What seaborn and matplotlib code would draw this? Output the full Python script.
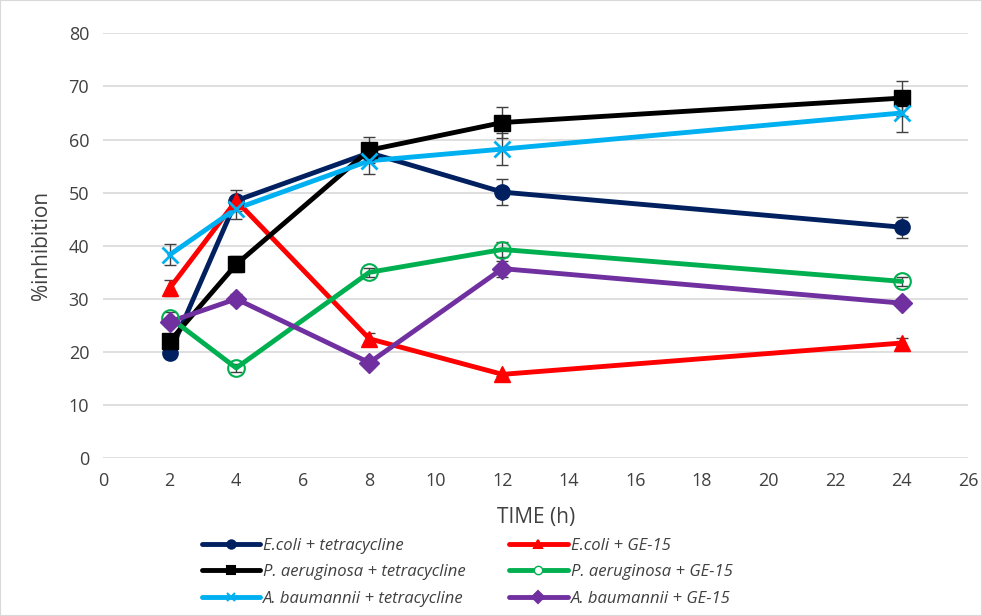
import seaborn as sns
import pandas as pd
import matplotlib.pyplot as plt

times = [2, 4, 8, 12, 24]
series = ["E.coli + tetracycline", "E.coli + GE-15",
          "P. aeruginosa + tetracycline", "P. aeruginosa + GE-15",
          "A. baumannii + tetracycline", "A. baumannii + GE-15"]
ecoli_tet = [19.8, 48.5, 57.5, 50.1, 43.5]
ecoli_ge = [32.0, 48.5, 22.5, 15.8, 21.7]
paer_tet = [22.0, 36.5, 58.0, 63.2, 67.8]
paer_ge = [26.5, 17.0, 35.0, 39.3, 33.3]
abau_tet = [38.3, 47.0, 56.0, 58.2, 65.0]
abau_ge = [25.7, 30.0, 18.0, 35.7, 29.2]
ecoli_tet_err = [0.5, 2.0, 1.5, 2.5, 2.0]
ecoli_ge_err = [1.5, 0.5, 1.0, 0.3, 1.0]
paer_tet_err = [1.0, 1.5, 2.5, 3.0, 3.3]
paer_ge_err = [1.0, 0.8, 0.8, 1.5, 0.8]
abau_tet_err = [2.0, 2.0, 2.5, 3.0, 3.5]
abau_ge_err = [0.8, 1.0, 0.8, 1.5, 0.8]

values = [ecoli_tet, ecoli_ge, paer_tet, paer_ge, abau_tet, abau_ge]
errors = [ecoli_tet_err, ecoli_ge_err, paer_tet_err, paer_ge_err, abau_tet_err, abau_ge_err]
colors = ["#002060", "#FF0000", "#000000", "#00B050", "#00B0F0", "#7030A0"]
markers = ["o", "^", "s", "o", "x", "D"]

rows = []
for name, vals in zip(series, values):
    for t, v in zip(times, vals):
        rows.append({"time": t, "inh": v, "series": name})
df = pd.DataFrame(rows)

sns.set_style("white")
plt.rcParams["font.family"] = ["Open Sans", "DejaVu Sans"]

fig = plt.figure(figsize=(9.82, 6.16), dpi=100)
ax = fig.add_axes([0.105, 0.256, 0.881, 0.69])

# error bars first, behind the lines
for vals, errs in zip(values, errors):
    ax.errorbar(times, vals, yerr=errs, fmt="none", ecolor="#404040",
                elinewidth=1, capsize=4, capthick=1, zorder=2)

sns.lineplot(data=df, x="time", y="inh", hue="series", hue_order=series,
             palette=colors, linewidth=3.5, legend=False, ax=ax, zorder=3)

for name, vals, c, m in zip(series, values, colors, markers):
    if name == "P. aeruginosa + GE-15":
        ax.plot(times, vals, ls="none", marker="o", ms=12, mfc="none",
                mec=c, mew=1.5, zorder=4)
    elif m == "x":
        ax.plot(times, vals, ls="none", marker="x", ms=11, mec=c, mew=2, zorder=4)
    else:
        ax.plot(times, vals, ls="none", marker=m, ms=11 if m != "D" else 10,
                color=c, zorder=4)

ax.set_xlim(0, 26)
ax.set_ylim(0, 80)
ax.set_xticks(range(0, 27, 2))
ax.set_yticks(range(0, 81, 10))
ax.yaxis.grid(True, color="#d9d9d9", lw=1.2)
ax.set_axisbelow(True)
for s in ax.spines.values():
    s.set_visible(False)
ax.tick_params(axis="both", labelsize=13, colors="#404040", length=0, pad=10)
ax.set_xlabel("TIME (h)", fontsize=15, color="#404040", labelpad=12)
ax.set_ylabel("%inhibition", fontsize=15, color="#404040", labelpad=12)

handles = []
for name, c, m in zip(series, colors, markers):
    if name == "P. aeruginosa + GE-15":
        h = plt.Line2D([], [], color=c, lw=3.5, marker="o", ms=6, mfc="white", mec=c)
    else:
        h = plt.Line2D([], [], color=c, lw=3.5, marker=m, ms=6, mew=1.5)
    handles.append(h)
order = [0, 2, 4, 1, 3, 5]
leg = fig.legend([handles[i] for i in order], [series[i] for i in order],
                 loc="lower left", bbox_to_anchor=(0.19, -0.009),
                 ncol=2, frameon=False, handlelength=3.5,
                 prop={"size": 12, "style": "italic"},
                 handletextpad=0.2, columnspacing=2.6, labelspacing=0.62)
for t in leg.get_texts():
    t.set_color("#404040")

fig.patches.append(plt.Rectangle((0, 0), 1, 1, transform=fig.transFigure,
                                 fill=False, edgecolor="#d9d9d9", lw=1.5))
fig.savefig("out.png", dpi=100)
